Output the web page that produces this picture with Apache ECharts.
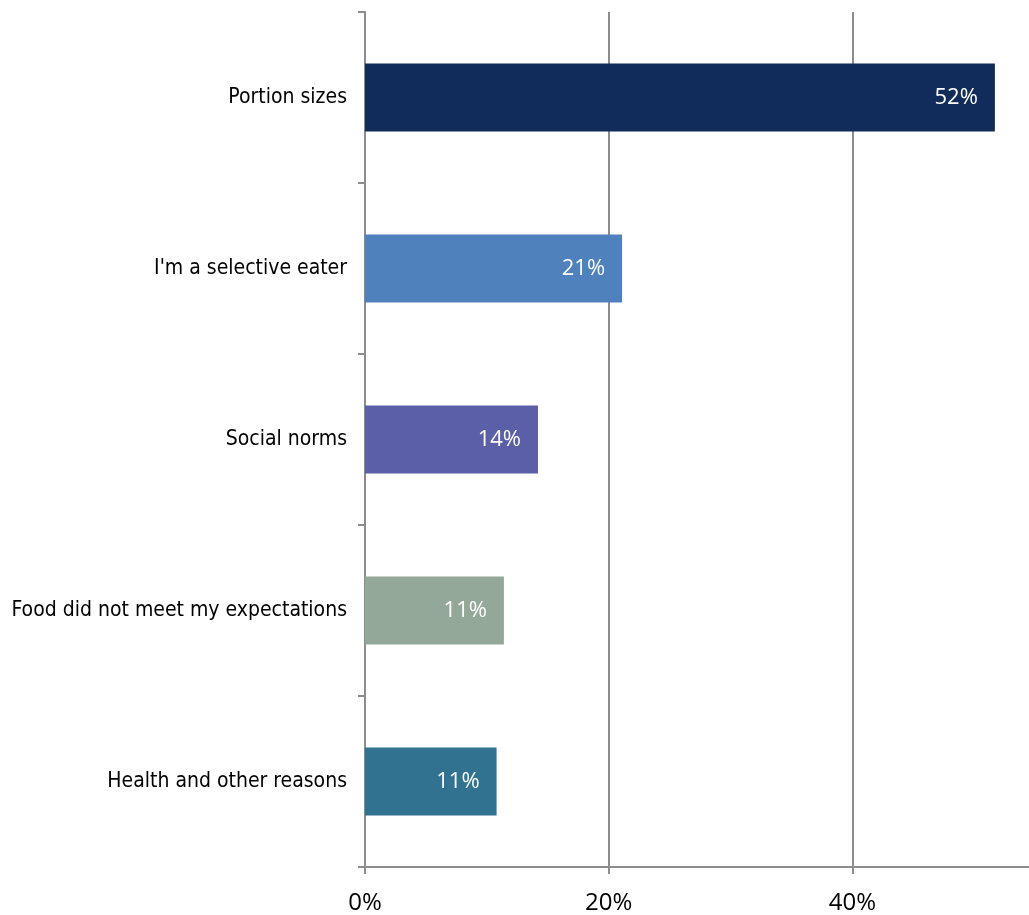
<!DOCTYPE html>
<html>
<head>
<meta charset="utf-8">
<script src="https://cdn.jsdelivr.net/npm/echarts@6/dist/echarts.min.js"></script>
<style>
  html, body { margin: 0; padding: 0; background: #ffffff; }
  #chart { width: 1029px; height: 915px; }
</style>
</head>
<body>
<div id="chart"></div>
<script>
// Reasons given, top to bottom
const categories = [
  'Portion sizes',
  "I'm a selective eater",
  'Social norms',
  'Food did not meet my expectations',
  'Health and other reasons'
];
// Share of respondents, percent
const values = [51.7, 21.1, 14.2, 11.4, 10.8];
const barColors = ['#112B5A', '#4F81BD', '#5A5FA7', '#94A899', '#317291'];
// Labelled ticks; the scale runs a little past the last one
const tickValues = [0, 20, 40];
const axisMax = 54.5;

const axisGray = '#8C8C8C';
const chart = echarts.init(document.getElementById('chart'), null, { renderer: 'canvas' });

chart.setOption({
  animation: false,
  backgroundColor: '#ffffff',
  grid: { left: 365, top: 12, bottom: 47, right: 0, containLabel: false },
  xAxis: {
    type: 'value',
    min: tickValues[0],
    max: axisMax,
    interval: tickValues[1] - tickValues[0],
    axisLine: { show: true, lineStyle: { color: axisGray, width: 2 } },
    axisTick: {
      show: true, length: 7, lineStyle: { color: axisGray, width: 2 },
      customValues: tickValues
    },
    splitLine: { show: true, lineStyle: { color: axisGray, width: 2 } },
    axisLabel: {
      margin: 24,
      color: '#000000',
      fontSize: 24,
      fontFamily: '"Open Sans", "Noto Sans", sans-serif',
      customValues: tickValues,
      formatter: v => v + '%'
    }
  },
  yAxis: {
    type: 'category',
    inverse: true,
    data: categories,
    axisLine: { show: true, onZero: false, lineStyle: { color: axisGray, width: 2 } },
    axisTick: { show: true, length: 7, lineStyle: { color: axisGray, width: 2 } },
    axisLabel: {
      margin: 18,
      color: '#000000',
      fontSize: 21,
      fontFamily: '"DejaVu Sans Condensed", "DejaVu Sans", sans-serif'
    }
  },
  series: [{
    type: 'bar',
    data: values.map((v, i) => ({ value: v, itemStyle: { color: barColors[i] } })),
    barWidth: 68,
    label: {
      show: true,
      position: 'insideRight',
      distance: 17,
      color: '#ffffff',
      fontSize: 22,
      fontFamily: '"Open Sans", "Noto Sans", sans-serif',
      formatter: p => Math.round(p.value) + '%'
    }
  }]
});
</script>
</body>
</html>
